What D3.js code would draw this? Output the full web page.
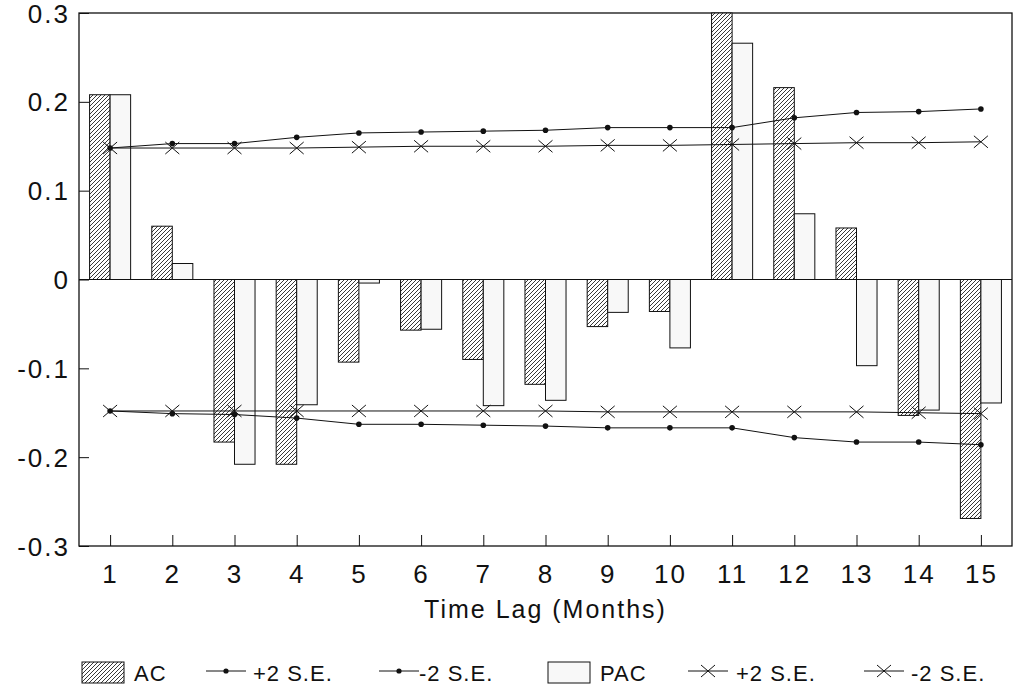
<!DOCTYPE html>
<html>
<head>
<meta charset="utf-8">
<script src="https://cdn.jsdelivr.net/npm/d3@7"></script>
<style>
  body { margin: 0; background: #fff; }
  text { font-family: "Liberation Sans", Arial, sans-serif; fill: #111; }
</style>
</head>
<body>
<div class="chart"></div>
<script>
// lags and values
var lags = [1, 2, 3, 4, 5, 6, 7, 8, 9, 10, 11, 12, 13, 14, 15];
var acValues = [0.208, 0.060, -0.183, -0.208, -0.093, -0.057, -0.090, -0.118, -0.053, -0.036, 0.300, 0.216, 0.058, -0.153, -0.269];
var pacValues = [0.208, 0.018, -0.208, -0.141, -0.004, -0.056, -0.142, -0.136, -0.037, -0.077, 0.266, 0.074, -0.097, -0.147, -0.139];
var acUpper = [0.148, 0.153, 0.153, 0.160, 0.165, 0.166, 0.167, 0.168, 0.171, 0.171, 0.171, 0.182, 0.188, 0.189, 0.192];
var acLower = [-0.148, -0.151, -0.152, -0.156, -0.163, -0.163, -0.164, -0.165, -0.167, -0.167, -0.167, -0.178, -0.183, -0.183, -0.186];
var pacUpper = [0.148, 0.148, 0.148, 0.148, 0.149, 0.150, 0.150, 0.150, 0.151, 0.151, 0.152, 0.153, 0.154, 0.154, 0.155];
var pacLower = [-0.148, -0.148, -0.148, -0.148, -0.148, -0.148, -0.148, -0.148, -0.149, -0.149, -0.149, -0.149, -0.149, -0.150, -0.151];
var yTicks = [-0.3, -0.2, -0.1, 0, 0.1, 0.2, 0.3];

var svgWidth = 1017;
var svgHeight = 689;

var margin = { top: 13, right: 5, bottom: 143, left: 79 };
var width = svgWidth - margin.left - margin.right;
var height = svgHeight - margin.top - margin.bottom;

var svg = d3.select(".chart")
  .append("svg")
  .attr("width", svgWidth)
  .attr("height", svgHeight);

// hatch for the AC bars
var defs = svg.append("defs");
var hatch = defs.append("pattern")
  .attr("id", "hatch")
  .attr("patternUnits", "userSpaceOnUse")
  .attr("width", 4)
  .attr("height", 4);
hatch.append("rect").attr("width", 4).attr("height", 4).attr("fill", "#fff");
hatch.append("path")
  .attr("d", "M-1,1 l2,-2 M0,4 l4,-4 M3,5 l2,-2")
  .attr("stroke", "#222")
  .attr("stroke-width", 0.9);

var chartGroup = svg.append("g")
  .attr("transform", `translate(${margin.left}, ${margin.top})`);

var xScale = d3.scaleLinear()
  .domain([0.5, 15.5])
  .range([0, width]);

var yScale = d3.scaleLinear()
  .domain([-0.3, 0.3])
  .range([height, 0]);

var barW = (xScale(2) - xScale(1)) * 0.33;

// frame
chartGroup.append("rect")
  .attr("width", width)
  .attr("height", height)
  .attr("fill", "none")
  .attr("stroke", "#111")
  .attr("stroke-width", 1.3);

// axes (ticks pointing inward)
var bottomAxis = d3.axisBottom(xScale).tickValues(lags).tickSize(-11).tickPadding(19).tickFormat(d3.format("d"));
var leftAxis = d3.axisLeft(yScale).tickValues(yTicks).tickSize(-10).tickPadding(9)
  .tickFormat(d => d === 0 ? "0" : d3.format(".1f")(d).replace("\u2212", "-"));

var xAxisG = chartGroup.append("g")
  .attr("transform", `translate(0, ${height})`)
  .call(bottomAxis);
var yAxisG = chartGroup.append("g")
  .call(leftAxis);

[xAxisG, yAxisG].forEach(function(g) {
  g.select(".domain").remove();
  g.selectAll("line").attr("stroke", "#111").attr("stroke-width", 1);
  g.selectAll("text")
    .style("font-size", "26px")
    .style("letter-spacing", "2px")
    .style("font-family", "'Liberation Sans', Arial, sans-serif")
    .attr("fill", "#111");
});
yAxisG.selectAll("text").attr("dy", "0.35em");

// bars
chartGroup.selectAll(".ac")
  .data(lags)
  .enter()
  .append("rect")
  .attr("class", "ac")
  .attr("x", d => xScale(d) - barW)
  .attr("y", (d, i) => yScale(Math.max(0, acValues[i])))
  .attr("width", barW)
  .attr("height", (d, i) => Math.abs(yScale(acValues[i]) - yScale(0)))
  .attr("fill", "url(#hatch)")
  .attr("stroke", "#111")
  .attr("stroke-width", 1);

chartGroup.selectAll(".pac")
  .data(lags)
  .enter()
  .append("rect")
  .attr("class", "pac")
  .attr("x", d => xScale(d))
  .attr("y", (d, i) => yScale(Math.max(0, pacValues[i])))
  .attr("width", barW)
  .attr("height", (d, i) => Math.abs(yScale(pacValues[i]) - yScale(0)))
  .attr("fill", "#f8f8f8")
  .attr("stroke", "#111")
  .attr("stroke-width", 1);

// zero line
chartGroup.append("line")
  .attr("x1", 0).attr("x2", width)
  .attr("y1", yScale(0)).attr("y2", yScale(0))
  .attr("stroke", "#111")
  .attr("stroke-width", 1.2);

// confidence lines
var line = d3.line()
  .x((d, i) => xScale(lags[i]))
  .y(d => yScale(d));

function drawSeries(values, marker) {
  chartGroup.append("path")
    .datum(values)
    .attr("d", line)
    .attr("fill", "none")
    .attr("stroke", "#111")
    .attr("stroke-width", 1);
  values.forEach(function(v, i) {
    var cx = xScale(lags[i]), cy = yScale(v);
    if (marker === "dot") {
      chartGroup.append("circle")
        .attr("cx", cx).attr("cy", cy).attr("r", 2.8)
        .attr("fill", "#111");
    } else {
      chartGroup.append("path")
        .attr("d", `M${cx - 7},${cy - 6}L${cx + 7},${cy + 6}M${cx - 7},${cy + 6}L${cx + 7},${cy - 6}`)
        .attr("stroke", "#111")
        .attr("stroke-width", 1);
    }
  });
}

drawSeries(pacUpper, "x");
drawSeries(pacLower, "x");
drawSeries(acUpper, "dot");
drawSeries(acLower, "dot");

// axis title
chartGroup.append("text")
  .attr("x", width / 2)
  .attr("y", height + 72)
  .attr("text-anchor", "middle")
  .style("font-size", "25px")
  .style("letter-spacing", "2px")
  .text("Time Lag (Months)");

// legend
var legendY = 673;
var legendItems = [
  { type: "ac", x: 82, label: "AC", tx: 134 },
  { type: "dot", x: 206, label: "+2 S.E.", tx: 253 },
  { type: "dot", x: 379, label: "-2 S.E.", tx: 419 },
  { type: "pac", x: 548, label: "PAC", tx: 600 },
  { type: "x", x: 688, label: "+2 S.E.", tx: 736 },
  { type: "x", x: 864, label: "-2 S.E.", tx: 911 }
];

var legend = svg.append("g");
legendItems.forEach(function(item) {
  if (item.type === "ac" || item.type === "pac") {
    legend.append("rect")
      .attr("x", item.x).attr("y", legendY - 11)
      .attr("width", 42).attr("height", 21)
      .attr("fill", item.type === "ac" ? "url(#hatch)" : "#f8f8f8")
      .attr("stroke", "#111")
      .attr("stroke-width", 1);
  } else {
    legend.append("line")
      .attr("x1", item.x).attr("x2", item.x + 40)
      .attr("y1", legendY - 2).attr("y2", legendY - 2)
      .attr("stroke", "#111").attr("stroke-width", 1);
    var mx = item.x + 20;
    if (item.type === "dot") {
      legend.append("circle").attr("cx", mx).attr("cy", legendY - 2).attr("r", 2.6).attr("fill", "#111");
    } else {
      legend.append("path")
        .attr("d", `M${mx - 7},${legendY - 8}L${mx + 7},${legendY + 4}M${mx - 7},${legendY + 4}L${mx + 7},${legendY - 8}`)
        .attr("stroke", "#111").attr("stroke-width", 1);
    }
  }
  legend.append("text")
    .attr("x", item.tx)
    .attr("y", legendY + 8)
    .style("font-size", "22px")
    .style("letter-spacing", "1px")
    .style("font-family", "'Liberation Sans Narrow', 'Liberation Sans', sans-serif")
    .text(item.label);
});
</script>
</body>
</html>
